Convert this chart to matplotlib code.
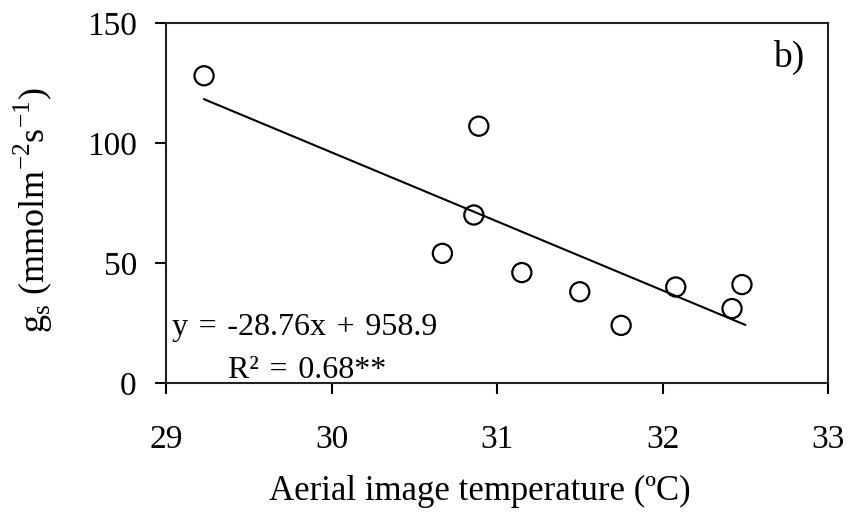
import numpy as np
import matplotlib
matplotlib.use('Agg')
import matplotlib.pyplot as plt

plt.rcParams['font.family'] = ['Liberation Serif', 'DejaVu Serif']
plt.rcParams['mathtext.fontset'] = 'custom'
plt.rcParams['mathtext.rm'] = 'Liberation Serif'

# aerial image temperature (ºC) vs stomatal conductance
temp = [29.23, 30.89, 30.86, 30.67, 31.15, 31.50, 31.75, 32.08, 32.42, 32.48]
gs = [128, 107, 70, 54, 46, 38, 24, 40, 31, 41]

# regression line reported on the panel
slope = -28.76
intercept = 958.9
eq_text = 'y\u2004=\u2004-28.76x\u2004+\u2004958.9'
r2_text = 'R²\u2004=\u20040.68**'

fig = plt.figure(figsize=(8.61, 5.2), dpi=100)
ax = fig.add_axes([0.1928, 0.2635, 0.7689, 0.6923])

ax.scatter(temp, gs, s=190, facecolors='none', edgecolors='black', linewidths=1.6, zorder=3)

xfit = np.array([min(temp), max(temp) + 0.02])
ax.plot(xfit, slope * xfit + intercept, color='black', lw=1.5)

ax.set_xlim(29, 33)
ax.set_ylim(0, 150)
ax.set_xticks([29, 30, 31, 32, 33])
ax.set_yticks([0, 50, 100, 150])

for sp in ax.spines.values():
    sp.set_linewidth(1.5)
    sp.set_color('#222222')
ax.tick_params(axis='both', direction='out', length=8, width=1.5, labelsize=24)
ax.tick_params(axis='x', pad=22)
ax.tick_params(axis='y', pad=13)

ax.set_xlabel('Aerial image temperature (ºC)', fontsize=25, labelpad=18)
ax.xaxis.set_label_coords(0.474, -0.255)
ax.set_ylabel(r'g$_\mathregular{s}$ (mmolm$^\mathregular{-2}$s$^\mathregular{-1}$)', fontsize=26, labelpad=18)
ax.yaxis.set_label_coords(-0.168, 0.48)

ax.text(0.009, 0.133, eq_text, transform=ax.transAxes, fontsize=23, ha='left', va='baseline')
ax.text(0.213, 0.014, r2_text, transform=ax.transAxes, fontsize=23, ha='center', va='baseline')
ax.text(0.94, 0.905, 'b)', transform=ax.transAxes, fontsize=27, ha='center', va='center')

fig.savefig('out.png', dpi=100)
